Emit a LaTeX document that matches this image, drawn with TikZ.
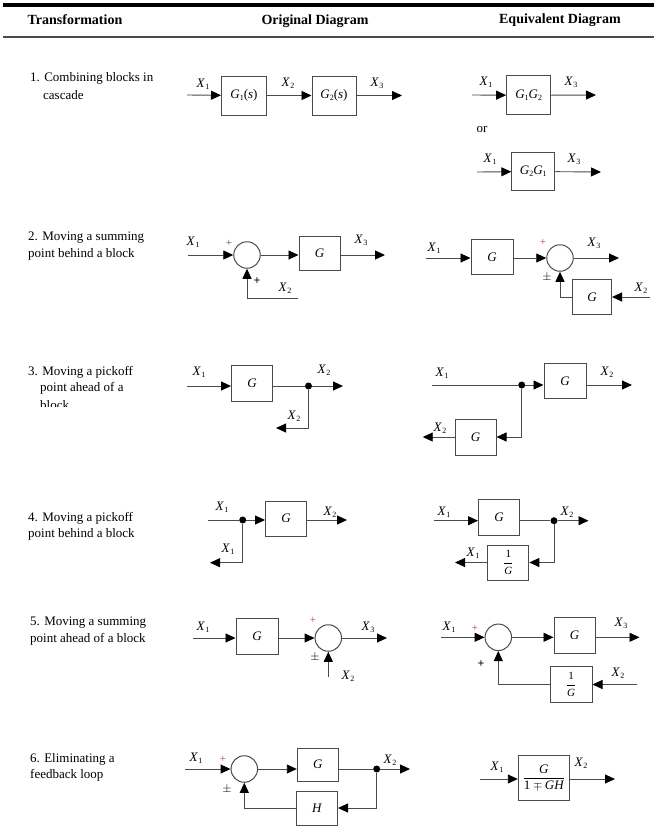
\documentclass[tikz,border=0pt]{standalone}
\usepackage{fontspec}
\setmainfont{Liberation Serif}
\usetikzlibrary{arrows.meta}
\definecolor{linegray}{HTML}{4A4A4A}
\definecolor{plusred}{HTML}{B0404A}
\definecolor{plusblue}{HTML}{3A4A7A}
\newcommand\sbs[1]{\raisebox{-0.35ex}{\fontsize{8}{8}\selectfont #1}}
\newcommand\Xv[1]{\textit{X}\kern0.3pt\sbs{#1}}
\begin{document}
\begin{tikzpicture}[x=1pt,y=-1pt,
  every node/.style={inner sep=0pt},
  txt/.style={font=\fontsize{13}{16}\selectfont, anchor=west},
  hdr/.style={font=\fontsize{14}{16}\selectfont\bfseries},
  lbl/.style={font=\fontsize{13}{13}\selectfont},
  blk/.style={draw=linegray, line width=1pt, font=\fontsize{13}{13}\selectfont},
  sumc/.style={circle, draw=linegray, line width=1pt, minimum size=26.5pt},
  sig/.style={draw=linegray, line width=0.9pt, -{Triangle[length=10pt,width=9pt,fill=black,color=black]}},
  ln/.style={draw=linegray, line width=0.9pt},
  pdot/.style={circle, fill=black, minimum size=7pt},
  sgn/.style={font=\fontsize{11}{11}\selectfont, text=plusred},
  sgnb/.style={font=\fontsize{12}{12}\selectfont\bfseries}
]
\useasboundingbox (0,0) rectangle (657,836);
% header
\draw[line width=4pt] (3,5) -- (654,5);
\draw[linegray, line width=1.2pt] (3,37) -- (654,37);
\node[hdr] (h1) at (75,20) {Transformation};
\node[hdr] (h2) at (315,21) {Original Diagram};
\node[hdr] (h3) at (560,20) {Equivalent Diagram};

% left column
\node[txt] (t1a) at (30,78) {1. Combining blocks in};
\node[txt] (t1b) at (43,95) {cascade};
\node[txt] (t2a) at (28,238) {2. Moving a summing};
\node[txt] (t2b) at (28,254) {point behind a block};
\node[txt] (t3a) at (28,372) {3. Moving a pickoff};
\node[txt] (t3b) at (40,388) {point ahead of a};
\begin{scope}
\clip (0,396) rectangle (170,406.5);
\node[txt] (t3c) at (40,405) {block};
\end{scope}
\node[txt] (t4a) at (28,518) {4. Moving a pickoff};
\node[txt] (t4b) at (28,534) {point behind a block};
\node[txt] (t5a) at (30,623) {5. Moving a summing};
\node[txt] (t5b) at (30,639) {point ahead of a block};
\node[txt] (t6a) at (30,759) {6. Eliminating a};
\node[txt] (t6b) at (30,775) {feedback loop};

% ---------- Row 1 original
\coordinate (r1in) at (187,95);
\node[blk, minimum width=45pt, minimum height=39pt] (b11) at (244,95.5) {\textit{G}\sbs{1}(\textit{s})};
\node[blk, minimum width=44pt, minimum height=39pt] (b12) at (334,95.5) {\textit{G}\sbs{2}(\textit{s})};
\coordinate (r1out) at (402,95.5);
\draw[sig] (r1in) -- (b11);
\draw[sig] (b11) -- (b12);
\draw[sig] (b12) -- (r1out);
\node[lbl] (l11) at (203,84) {\Xv{1}};
\node[lbl] (l12) at (288,83) {\Xv{2}};
\node[lbl] (l13) at (377,83) {\Xv{3}};

% ---------- Row 1 equivalent
\coordinate (e1in) at (472,95);
\node[blk, minimum width=44pt, minimum height=39pt] (b13) at (528.7,95.3) {\textit{G}\sbs{1}\textit{G}\sbs{2}};
\coordinate (e1out) at (596,95);
\draw[sig] (e1in) -- (b13);
\draw[sig] (b13) -- (e1out);
\node[lbl] (l14) at (486,82) {\Xv{1}};
\node[lbl] (l15) at (571,82) {\Xv{3}};
\node[lbl] (or) at (482,129) {or};
\coordinate (e1in2) at (477,172);
\node[blk, minimum width=43pt, minimum height=38pt] (b14) at (533.3,171.5) {\textit{G}\sbs{2}\textit{G}\sbs{1}};
\coordinate (e1out2) at (601,172);
\draw[sig] (e1in2) -- (b14);
\draw[sig] (b14) -- (e1out2);
\node[lbl] (l16) at (490,159) {\Xv{1}};
\node[lbl] (l17) at (574,159) {\Xv{3}};

% ---------- Row 2 original
\coordinate (r2in) at (188,255);
\node[sumc] (s21) at (247,255) {};
\node[blk, minimum width=41pt, minimum height=34pt] (b21) at (319.5,253) {\textit{G}};
\coordinate (r2out) at (385,255);
\coordinate (r2fb) at (298,298);
\draw[sig] (r2in) -- (s21);
\draw[sig] (s21) -- (s21 -| b21.west);
\draw[sig] (s21 -| b21.east) -- (r2out);
\draw[sig] (r2fb) -| (s21.south);
\node[lbl] (l21) at (193,242) {\Xv{1}};
\node[sgn, text=plusblue] (p21) at (229,243) {+};
\node[lbl] (l22) at (361,240) {\Xv{3}};
\node[sgnb] (p22) at (257,281) {+};
\node[lbl] (l23) at (285,288) {\Xv{2}};

% ---------- Row 2 equivalent
\coordinate (e2in) at (426,258);
\node[blk, minimum width=42pt, minimum height=35pt] (b22) at (492,257) {\textit{G}};
\node[sumc] (s22) at (560,258) {};
\coordinate (e2out) at (619,258);
\node[blk, minimum width=39pt, minimum height=35pt] (b23) at (592,297) {\textit{G}};
\coordinate (e2x2) at (650,297);
\draw[sig] (e2in) -- (e2in -| b22.west);
\draw[sig] (e2in -| b22.east) -- (s22);
\draw[sig] (s22) -- (e2out);
\draw[sig] (e2x2) -- (b23);
\draw[sig] (b23.west) -| (s22.south);
\node[lbl] (l24) at (434,248) {\Xv{1}};
\node[sgn] (p23) at (543,242) {+};
\node[lbl] (l25) at (594,243) {\Xv{3}};
\node[sgnb] (p24) at (547,277) {$\pm$};
\node[lbl] (l26) at (641,288) {\Xv{2}};

% ---------- Row 3 original
\coordinate (r3in) at (187,386);
\node[blk, minimum width=41pt, minimum height=36pt] (b31) at (252,383) {\textit{G}};
\node[pdot] (d31) at (308.5,386) {};
\coordinate (r3out) at (343,386);
\coordinate (r3br) at (276,428);
\draw[sig] (r3in) -- (r3in -| b31.west);
\draw[ln] (r3in -| b31.east) -- (d31);
\draw[sig] (d31) -- (r3out);
\draw[sig] (d31) |- (r3br);
\node[lbl] (l31) at (199,372) {\Xv{1}};
\node[lbl] (l32) at (324,370) {\Xv{2}};
\node[lbl] (l33) at (294,416) {\Xv{2}};

% ---------- Row 3 equivalent
\coordinate (e3in) at (432,385);
\node[pdot] (d32) at (521.7,385) {};
\node[blk, minimum width=42pt, minimum height=35pt] (b32) at (565,381) {\textit{G}};
\coordinate (e3out) at (632,385);
\node[blk, minimum width=41pt, minimum height=36pt] (b33) at (475.5,437) {\textit{G}};
\coordinate (e3br) at (422.7,437);
\draw[ln] (e3in) -- (d32);
\draw[sig] (d32) -- (d32 -| b32.west);
\draw[sig] (d32 -| b32.east) -- (e3out);
\draw[sig] (d32) |- (b33.east);
\draw[sig] (b33.west) -- (e3br);
\node[lbl] (l34) at (442,373) {\Xv{1}};
\node[lbl] (l35) at (607,372) {\Xv{2}};
\node[lbl] (l36) at (440,428) {\Xv{2}};

% ---------- Row 4 original
\coordinate (r4in) at (208,520);
\node[pdot] (d41) at (242.7,520) {};
\node[blk, minimum width=41pt, minimum height=35pt] (b41) at (286,518.5) {\textit{G}};
\coordinate (r4out) at (347,520);
\coordinate (r4br) at (210,562.7);
\draw[ln] (r4in) -- (d41);
\draw[sig] (d41) -- (d41 -| b41.west);
\draw[sig] (d41 -| b41.east) -- (r4out);
\draw[sig] (d41) |- (r4br);
\node[lbl] (l41) at (222,507) {\Xv{1}};
\node[lbl] (l42) at (330,512) {\Xv{2}};
\node[lbl] (l43) at (228,549) {\Xv{1}};

% ---------- Row 4 equivalent
\coordinate (e4in) at (434,520.7);
\node[blk, minimum width=41pt, minimum height=36pt] (b42) at (499,517) {\textit{G}};
\node[pdot] (d42) at (554,520.7) {};
\coordinate (e4out) at (588.5,520.7);
\node[blk, minimum width=41pt, minimum height=35pt] (b43) at (508.3,562.5) {$\displaystyle\frac{\textrm{\fontsize{11}{11}\selectfont 1}}{\textit{\fontsize{11}{11}\selectfont G}}$};
\coordinate (e4br) at (455,562.5);
\draw[sig] (e4in) -- (e4in -| b42.west);
\draw[ln] (e4in -| b42.east) -- (d42);
\draw[sig] (d42) -- (e4out);
\draw[sig] (d42) |- (b43.east);
\draw[sig] (b43.west) -- (e4br);
\node[lbl] (l44) at (444,512) {\Xv{1}};
\node[lbl] (l45) at (567,512) {\Xv{2}};
\node[lbl] (l46) at (473,553) {\Xv{1}};

% ---------- Row 5 original
\coordinate (r5in) at (193,638);
\node[blk, minimum width=42pt, minimum height=36pt] (b51) at (257,636) {\textit{G}};
\node[sumc] (s51) at (328.3,638) {};
\coordinate (r5out) at (387,638);
\coordinate (r5x2) at (328.3,677);
\draw[sig] (r5in) -- (r5in -| b51.west);
\draw[sig] (r5in -| b51.east) -- (s51);
\draw[sig] (s51) -- (r5out);
\draw[sig] (r5x2) -- (s51.south);
\node[lbl] (l51) at (203,627) {\Xv{1}};
\node[sgn] (p51) at (313,620) {+};
\node[lbl] (l52) at (368,627) {\Xv{3}};
\node[sgnb] (p52) at (315,657) {$\pm$};
\node[lbl] (l53) at (348,676) {\Xv{2}};

% ---------- Row 5 equivalent
\coordinate (e5in) at (441,637.3);
\node[sumc] (s52) at (498.3,637.3) {};
\node[blk, minimum width=41pt, minimum height=36pt] (b52) at (574.5,635.5) {\textit{G}};
\coordinate (e5out) at (639.5,637.3);
\node[blk, minimum width=42pt, minimum height=36pt] (b53) at (571,684.5) {$\displaystyle\frac{\textrm{\fontsize{11}{11}\selectfont 1}}{\textit{\fontsize{11}{11}\selectfont G}}$};
\coordinate (e5x2) at (637,684.5);
\draw[sig] (e5in) -- (s52);
\draw[sig] (s52) -- (s52 -| b52.west);
\draw[sig] (s52 -| b52.east) -- (e5out);
\draw[sig] (e5x2) -- (b53);
\draw[sig] (b53.west) -| (s52.south);
\node[lbl] (l54) at (449,627) {\Xv{1}};
\node[sgn] (p53) at (475,628) {+};
\node[lbl] (l55) at (621,623) {\Xv{3}};
\node[sgnb] (p54) at (481,664) {+};
\node[lbl] (l56) at (618,673) {\Xv{2}};

% ---------- Row 6 original
\coordinate (r6in) at (185,769);
\node[sumc] (s61) at (244.3,769) {};
\node[blk, minimum width=41pt, minimum height=33pt] (b61) at (317.8,764.6) {\textit{G}};
\node[pdot] (d61) at (376.7,769) {};
\coordinate (r6out) at (410,769);
\node[blk, minimum width=41pt, minimum height=34pt] (b62) at (317,808) {\textit{H}};
\draw[sig] (r6in) -- (s61);
\draw[sig] (s61) -- (s61 -| b61.west);
\draw[ln] (s61 -| b61.east) -- (d61);
\draw[sig] (d61) -- (r6out);
\draw[sig] (d61) |- (b62.east);
\draw[sig] (b62.west) -| (s61.south);
\node[lbl] (l61) at (196,758) {\Xv{1}};
\node[sgn] (p61) at (223,759) {+};
\node[lbl] (l62) at (390,760) {\Xv{2}};
\node[sgnb] (p62) at (227,789) {$\pm$};

% ---------- Row 6 equivalent
\coordinate (e6in) at (480,779);
\node[blk, minimum width=51pt, minimum height=45pt] (b63) at (543.8,777.5) {$\displaystyle\frac{\textit{G}}{\textrm{1}\mp\textit{GH}}$};
\coordinate (e6out) at (615,779);
\draw[sig] (e6in) -- (e6in -| b63.west);
\draw[sig] (e6in -| b63.east) -- (e6out);
\node[lbl] (l63) at (497,767) {\Xv{1}};
\node[lbl] (l64) at (581,763) {\Xv{2}};
\end{tikzpicture}
\end{document}
